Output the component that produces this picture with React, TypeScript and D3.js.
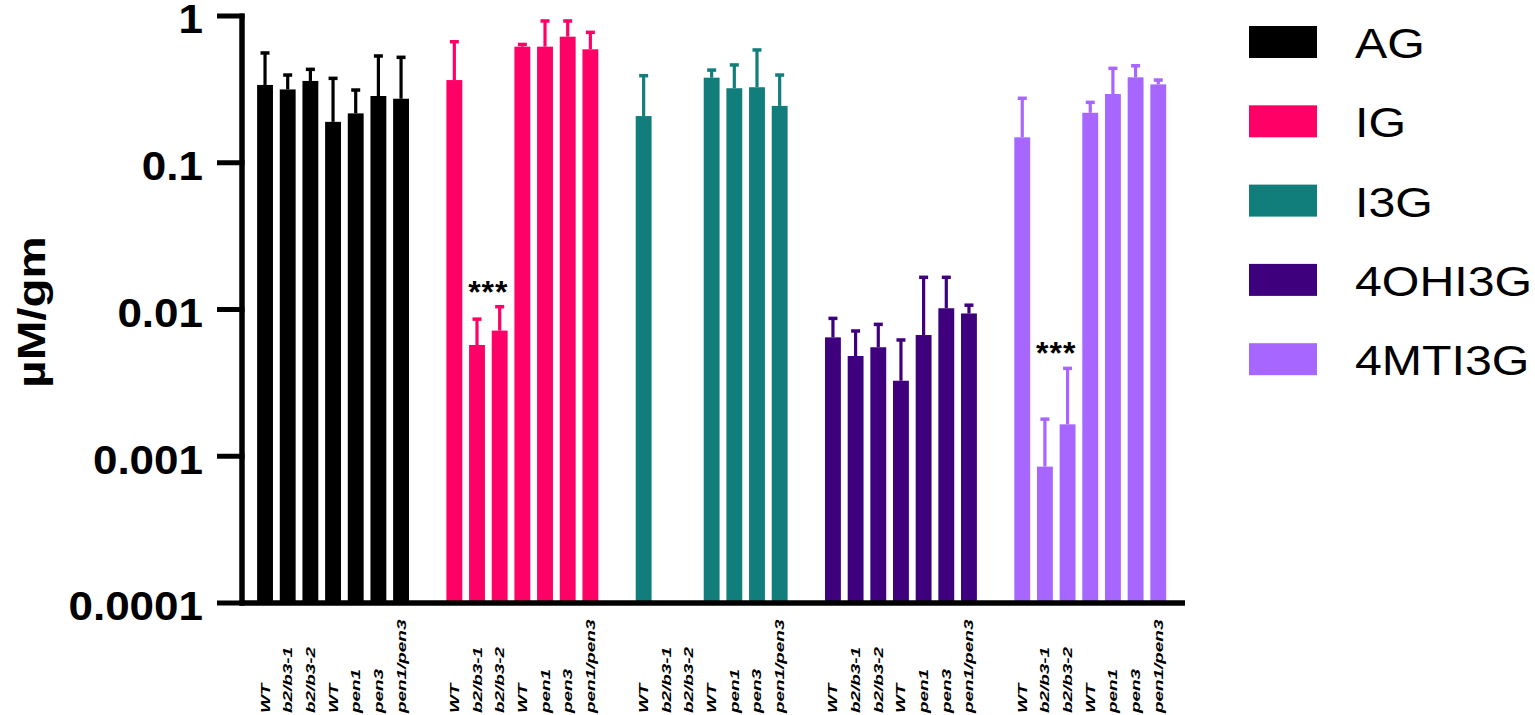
import React from "react";
import * as d3 from "d3";

const groups = ["AG", "IG", "I3G", "4OHI3G", "4MTI3G"];
const colors = ["#000000", "#FF0066", "#127E7B", "#3F007D", "#A666FF"];
const genotypes = ["WT", "b2/b3-1", "b2/b3-2", "WT", "pen1", "pen3", "pen1/pen3"];

const meanAG = [0.339, 0.316, 0.361, 0.19, 0.217, 0.285, 0.273];
const capAG = [0.56, 0.396, 0.433, 0.376, 0.313, 0.534, 0.523];
const meanIG = [0.366, 0.00573, 0.00718, 0.618, 0.618, 0.723, 0.593];
const capIG = [0.668, 0.0086, 0.01045, 0.64, 0.925, 0.925, 0.774];
const meanI3G = [0.208, null, null, 0.38, 0.322, 0.327, 0.244];
const capI3G = [0.392, null, null, 0.428, 0.464, 0.587, 0.396];
const mean4OHI3G = [0.00646, 0.00482, 0.00553, 0.00327, 0.0067, 0.0102, 0.0094];
const cap4OHI3G = [0.0087, 0.00714, 0.00792, 0.0062, 0.01657, 0.01657, 0.0107];
const mean4MTI3G = [0.149, 0.00085, 0.00165, 0.219, 0.294, 0.382, 0.342];
const cap4MTI3G = [0.275, 0.00179, 0.00397, 0.258, 0.44, 0.458, 0.366];

const yTicks = [1, 0.1, 0.01, 0.001, 0.0001];
const yTickLabels = ["1", "0.1", "0.01", "0.001", "0.0001"];
const significance = [
  { group: 1, bars: [1, 2], label: "***" },
  { group: 4, bars: [1, 2], label: "***" },
];

const means = [meanAG, meanIG, meanI3G, mean4OHI3G, mean4MTI3G];
const caps = [capAG, capIG, capI3G, cap4OHI3G, cap4MTI3G];

const W = 1535;
const H = 715;
const axisX = 242;
const axisY = 603;
const axisRight = 1185;

export default function App() {
  const y = d3.scaleLog().domain([0.0001, 1]).range([axisY, 16]);
  const outer = d3
    .scaleBand<number>()
    .domain(d3.range(groups.length))
    .range([253.7, 1169.6])
    .paddingInner(0.1617)
    .paddingOuter(0);
  const inner = d3
    .scaleBand<number>()
    .domain(d3.range(genotypes.length))
    .range([0, outer.bandwidth()])
    .paddingInner(0.3)
    .paddingOuter(0.15);
  const bw = inner.bandwidth();
  const cx = (g: number, i: number) => (outer(g) as number) + (inner(i) as number) + bw / 2;

  return (
    <svg
      width={W}
      height={H}
      style={{ position: "absolute", left: 0, top: 0, background: "#fff" }}
      fontFamily="'Liberation Sans', Arial, sans-serif"
    >
      {/* bars */}
      {groups.map((gName, g) =>
        genotypes.map((_, i) => {
          const m = means[g][i];
          const c = caps[g][i];
          if (m == null) return null;
          const x = cx(g, i);
          return (
            <g key={`${gName}-${i}`}>
              {c != null && (
                <>
                  <line x1={x} x2={x} y1={y(m)} y2={y(c)} stroke={colors[g]} strokeWidth={3.2} />
                  <line x1={x - 4.5} x2={x + 4.5} y1={y(c)} y2={y(c)} stroke={colors[g]} strokeWidth={3.5} />
                </>
              )}
              <rect x={x - bw / 2} y={y(m)} width={bw} height={axisY - y(m)} fill={colors[g]} />
            </g>
          );
        })
      )}

      {/* significance */}
      {significance.map((s, k) => {
        const xs = s.bars.map((b) => cx(s.group, b));
        const top = d3.max(s.bars.map((b) => caps[s.group][b] as number)) as number;
        return (
          <text
            key={k}
            x={d3.mean(xs)}
            y={y(top) - 24}
            textAnchor="middle"
            fontSize={32}
            fontWeight="bold"
            letterSpacing={1}
            dy="0.62em"
            fill="#000"
          >
            {s.label}
          </text>
        );
      })}

      {/* y axis */}
      <line x1={axisX} x2={axisX} y1={y(1) - 2.5} y2={axisY + 2.5} stroke="#000" strokeWidth={5.5} />
      {yTicks.map((t, k) => (
        <g key={t}>
          <line x1={217} x2={axisX + 2.5} y1={y(t)} y2={y(t)} stroke="#000" strokeWidth={5} />
          <text
            transform={`translate(203,${y(t) + 3}) scale(1.1,1)`}
            textAnchor="end"
            dy="0.36em"
            fontSize={40}
            fontWeight="bold"
            fill="#000"
          >
            {yTickLabels[k]}
          </text>
        </g>
      ))}
      <text
        transform={`translate(45,312) rotate(-90) scale(1.25,1)`}
        textAnchor="middle"
        fontSize={38}
        fontWeight="bold"
        fill="#000"
      >
        µM/gm
      </text>

      {/* x axis */}
      <line x1={axisX - 2.5} x2={axisRight} y1={axisY} y2={axisY} stroke="#000" strokeWidth={5.5} />
      {groups.map((gName, g) =>
        genotypes.map((lab, i) => (
          <text
            key={`lab-${gName}-${i}`}
            transform={`translate(${cx(g, i) + 4.5},713) rotate(-90) scale(1.4,1)`}
            fontSize={13.5}
            fontWeight="bold"
            fontStyle="italic"
            fill="#000"
          >
            {lab}
          </text>
        ))
      )}

      {/* legend */}
      {groups.map((gName, g) => {
        const top = 26 + g * 79.3;
        return (
          <g key={`leg-${gName}`}>
            <rect x={1249} y={top} width={68} height={32} fill={colors[g]} />
            <text
              transform={`translate(1355,${top + 32}) scale(1.15,1)`}
              fontSize={42}
              fill="#000"
            >
              {gName}
            </text>
          </g>
        );
      })}
    </svg>
  );
}
